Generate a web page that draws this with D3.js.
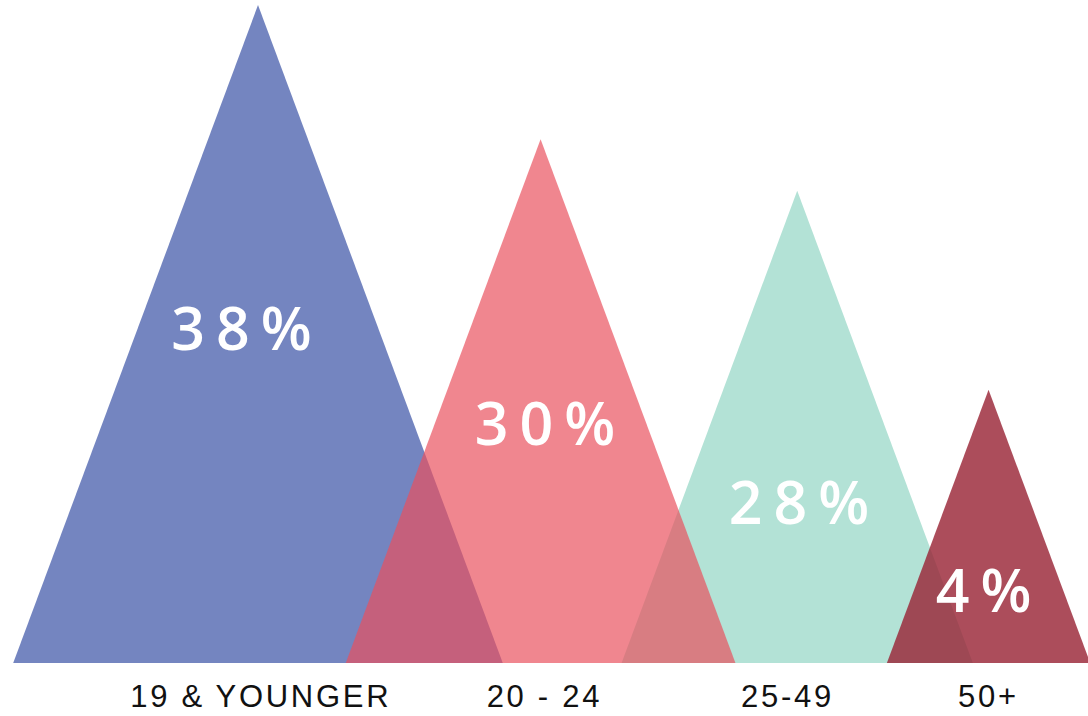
<!DOCTYPE html>
<html>
<head>
<meta charset="utf-8">
<script src="https://cdn.jsdelivr.net/npm/d3@7"></script>
<style>
    body { margin: 0; background: #fff; }
    svg { display: block; }
</style>
</head>
<body>
<svg width="1088" height="716"></svg>
<script>
// Data
var ageGroups = ["19 & YOUNGER", "20 - 24", "25-49", "50+"];
var shares = [38, 30, 28, 4];
// drawn peak height of each triangle, in percent units (4% is drawn taller than its value)
var peaks = [38, 30.25, 27.27, 15.78];

var colors = ["#7485c0", "rgb(233,80,93)", "#b3e2d6", "rgb(154,38,55)"];
var opacities = [1, 0.69, 1, 0.82];
var drawOrder = [0, 2, 1, 3];

// Layout (in the same units as the value scale)
var centreAt = [14.9, 31.22, 46.04, 57.09];
var pctAt = [[13.95, 18.08], [31.47, 12.59], [46.14, 8.03], [56.8, 2.92]];
var groupAt = [14.98, 31.36, 45.4, 57.0];
var slope = 0.372;

var svg = d3.select("svg");

var yScale = d3.scaleLinear().domain([0, 38]).range([663, 5]);
var unit = (yScale(0) - yScale(38)) / 38;
var xScale = d3.scaleLinear().domain([0, 1088 / unit]).range([0, 1088]);

function trianglePath(i) {
    var c = centreAt[i];
    var h = peaks[i];
    var pts = [
        [xScale(c - slope * h), yScale(0)],
        [xScale(c), yScale(h)],
        [xScale(c + slope * h), yScale(0)]
    ];
    return d3.line()(pts) + "Z";
}

// Triangles
svg.append("g")
    .selectAll("path")
    .data(drawOrder)
    .join("path")
    .attr("d", i => trianglePath(i))
    .attr("fill", i => colors[i])
    .attr("fill-opacity", i => opacities[i]);

// Percent labels
var pctSpacing = 11;
svg.append("g")
    .selectAll("text")
    .data(shares)
    .join("text")
    .attr("x", (d, i) => xScale(pctAt[i][0]) + pctSpacing / 2)
    .attr("y", (d, i) => yScale(pctAt[i][1]))
    .attr("text-anchor", "middle")
    .style("font-family", "'Open Sans', sans-serif")
    .style("font-size", "59px")
    .style("font-weight", 600)
    .style("letter-spacing", pctSpacing + "px")
    .style("fill", "#fff")
    .text(d => d + "%");

// Age group labels
var groupSpacing = 2.7;
svg.append("g")
    .selectAll("text")
    .data(ageGroups)
    .join("text")
    .attr("x", (d, i) => xScale(groupAt[i]) + groupSpacing / 2)
    .attr("y", 707)
    .attr("text-anchor", "middle")
    .style("font-family", "'Liberation Sans', Arial, sans-serif")
    .style("font-size", "31px")
    .style("letter-spacing", groupSpacing + "px")
    .style("fill", "#111")
    .text(d => d);
</script>
</body>
</html>
